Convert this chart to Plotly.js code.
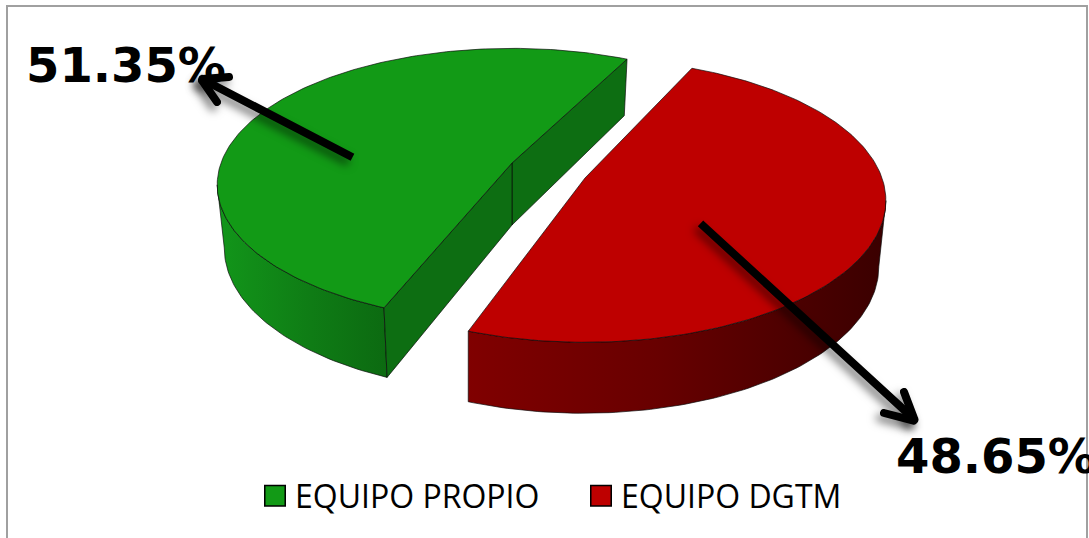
<!DOCTYPE html>
<html><head><meta charset="utf-8">
<script src="https://cdn.plot.ly/plotly-3.0.1.min.js"></script>
<style>
html,body{margin:0;padding:0;background:#fff;overflow:hidden}
#chart{width:1089px;height:538px}
.annotation-arrow-g{filter:drop-shadow(-4px 5px 4px rgba(0,0,0,.5))}
.annotation[data-index="4"] path,.annotation[data-index="5"] path,.annotation[data-index="6"] path,.annotation[data-index="7"] path{stroke-linecap:round}
.legend .legendpoints path.scatterpts{transform:translate(20px,0) scale(1.28)}
</style></head><body><div id="chart"></div>
<script>
// Data
const categories = ['EQUIPO PROPIO', 'EQUIPO DGTM'];
const values = [51.35, 48.65];
const valueLabels = ['51.35%', '48.65%'];
const topColors = ['#129A16', '#BE0000'];
const cutColor = '#0D6E12';
const sideScales = [
  [[0,'#12961A'],[0.55,'#0F7C15'],[1,'#0C6A11']],
  [[0,'#800000'],[0.45,'#680000'],[1,'#3A0000']]
];

// 3D projection of the disc (perspective, screen y downward)
const P = 0.16;
const slices = [
  {cx:512, cy:163, rx:291, ry:133, bcx:512, bcy:225, brx:284, bry:140, start:112},
  {cx:585, cy:178, rx:297, ry:138, bcx:583, bcy:243, brx:292, bry:143, start:109.5}
];
const total = values.reduce((a,b)=>a+b,0);
const sweep = v => v/total*360;
const rad = d => d*Math.PI/180;
const tangent = Math.asin(P)*180/Math.PI;   // angle of the disc's widest point on screen
function topPt(s,a){const u=Math.cos(rad(a)),v=Math.sin(rad(a)),w=1-P*v;return [s.cx+s.rx*u/w,s.cy+s.ry*v/w];}
function botPt(s,a){const u=Math.cos(rad(a)),v=Math.sin(rad(a)),w=1-P*v;return [s.bcx+s.brx*u/w,s.bcy+s.bry*v/w];}
function arc(fn,s,a0,a1){const n=Math.max(2,Math.ceil(Math.abs(a1-a0)));const o=[];for(let i=0;i<=n;i++)o.push(fn(s,a0+(a1-a0)*i/n));return o;}
function poly(pts,extra){return Object.assign({type:'scatter',mode:'lines',x:pts.map(p=>p[0]),y:pts.map(p=>p[1]),fill:'toself',
  line:{color:'rgba(10,10,10,0.85)',width:0.8},hoverinfo:'skip',showlegend:false},extra);}

const traces=[];
// green: sweeps from start (lower-left) through the left side to upper right
{
  const s=slices[0], a0=s.start, a1=a0+sweep(values[0]);
  const side=arc(topPt,s,a0,180-tangent).concat(arc(botPt,s,180-tangent,a0));
  traces.push(poly(side.concat([side[0]]),{fillgradient:{type:'horizontal',colorscale:sideScales[0]},name:categories[0]+' side'}));
  const apexT=[s.cx,s.cy],apexB=[s.bcx,s.bcy];
  traces.push(poly([apexT,topPt(s,a1),botPt(s,a1),apexB,apexT],{fillcolor:cutColor}));
  traces.push(poly([apexT,topPt(s,a0),botPt(s,a0),apexB,apexT],{fillcolor:cutColor}));
  traces.push(poly([apexT].concat(arc(topPt,s,a0,a1),[apexT]),{fillcolor:topColors[0],name:categories[0]}));
}
// red: sweeps from start (lower-left) through the bottom and right to upper right
{
  const s=slices[1], a0=s.start, a1=a0-sweep(values[1]);
  const side=arc(topPt,s,a0,tangent).concat(arc(botPt,s,tangent,a0));
  traces.push(poly(side.concat([side[0]]),{fillgradient:{type:'horizontal',colorscale:sideScales[1]},name:categories[1]+' side'}));
  traces.push(poly([[s.cx,s.cy]].concat(arc(topPt,s,a0,a1),[[s.cx,s.cy]]),{fillcolor:topColors[1],name:categories[1]}));
}
// legend entries
categories.forEach((c,i)=>traces.push({type:'scatter',mode:'markers',x:[null],y:[null],name:c,
  marker:{symbol:'square',size:16,color:topColors[i],line:{color:'#000',width:1.2}},showlegend:true,hoverinfo:'skip'}));

const labelFont={family:'"DejaVu Sans", sans-serif',size:48,color:'#000'};
const arrow=(x,y,ax,ay,w)=>({x,y,ax,ay,xref:'x',yref:'y',axref:'x',ayref:'y',text:'',showarrow:true,
  arrowhead:0,arrowwidth:w,arrowcolor:'#000',standoff:0,startstandoff:0});
const layout={
  width:1089,height:538,margin:{l:0,r:0,t:0,b:0},paper_bgcolor:'#fff',plot_bgcolor:'#fff',
  xaxis:{range:[0,1089],visible:false,fixedrange:true},
  yaxis:{range:[538,0],visible:false,fixedrange:true},
  showlegend:true,
  legend:{orientation:'h',x:255/1089,xanchor:'left',y:1-(496/538),yanchor:'middle',
    font:{family:'"Open Sans", sans-serif',size:32,color:'#000'},itemwidth:30,
    entrywidth:281,entrywidthmode:'pixels',bgcolor:'rgba(0,0,0,0)',traceorder:'normal'},
  shapes:[{type:'rect',xref:'x',yref:'y',x0:7,y0:6,x1:1087,y1:560,line:{color:'#A0A0A0',width:2},fillcolor:'#fff',layer:'below'}],
  annotations:[
    {x:24,y:65,xref:'x',yref:'y',text:'<b>'+valueLabels[0]+'</b>',showarrow:false,xanchor:'left',yanchor:'middle',font:labelFont,align:'left'},
    {x:894,y:456,xref:'x',yref:'y',text:'<b>'+valueLabels[1]+'</b>',showarrow:false,xanchor:'left',yanchor:'middle',font:labelFont,align:'left'},
    arrow(200,78,354,158,8),
    arrow(914,419,699,222,8),
    arrow(217,102,201,79,8),
    arrow(229,77,201,79,8),
    arrow(904,392,915,421,8),
    arrow(884,413,915,421,8)
  ]
};
Plotly.newPlot('chart',traces,layout,{displayModeBar:false,staticPlot:true});
</script></body></html>
